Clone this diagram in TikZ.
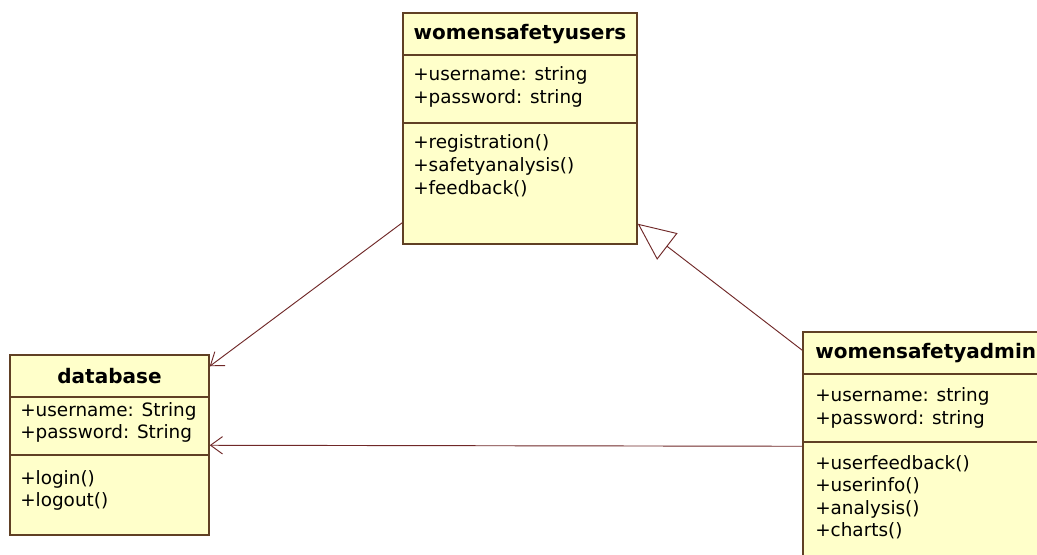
\documentclass[tikz,border=0pt]{standalone}
\usepackage{fontspec}
\setmainfont{DejaVu Sans}
\usetikzlibrary{arrows.meta,calc}

\definecolor{classfill}{RGB}{255,255,202}
\definecolor{classline}{RGB}{96,64,36}
\definecolor{linkline}{RGB}{112,40,40}

\begin{document}
\begin{tikzpicture}[x=0.75pt,y=-0.75pt]
\tikzstyle{classbox}=[draw=classline,fill=classfill,line width=1.1pt,inner sep=0pt]
\tikzstyle{sepline}=[draw=classline,line width=1.1pt]
\tikzstyle{member}=[anchor=base west,inner sep=0pt,font=\fontsize{13.8}{16}\selectfont]
\tikzstyle{title}=[inner sep=0pt,font=\bfseries\fontsize{15}{17}\selectfont]
\tikzstyle{assoc}=[draw=linkline,line width=0.7pt,-{Straight Barb[length=9pt,width=13pt]}]
\tikzstyle{inherit}=[draw=linkline,line width=0.7pt,-{Triangle[length=28pt,width=25pt,fill=white]}]
\fill[white] (0,0) rectangle (1037,555);
\clip (0,0) rectangle (1037,555);

\node[classbox,minimum width=175.5pt,minimum height=173.25pt] (users) at (520,128.5) {};
\draw[sepline] (users.west |- 0,55) -- (users.east |- 0,55);
\draw[sepline] (users.west |- 0,123) -- (users.east |- 0,123);
\node[title] (users-t) at (520,34) {womensafetyusers};
\node[member] (users-a1) at (413,81) {+username: string};
\node[member] (users-a2) at (413,104) {+password: string};
\foreach \m [count=\i] in {+registration(),+safetyanalysis(),+feedback()}
  \node[member] (users-o\i) at (413,149+23*\i-23) {\m};

\node[classbox,minimum width=149.25pt,minimum height=135pt] (db) at (109.5,445) {};
\draw[sepline] (db.west |- 0,397) -- (db.east |- 0,397);
\draw[sepline] (db.west |- 0,455) -- (db.east |- 0,455);
\node[title] (db-t) at (109.5,376) {database};
\node[member] (db-a1) at (20,416) {+username: String};
\node[member] (db-a2) at (20,438) {+password: String};
\node[member] (db-o1) at (20,484) {+login()};
\node[member] (db-o2) at (20,506) {+logout()};

\node[classbox,minimum width=192pt,minimum height=183pt] (admin) at (931,454) {};
\draw[sepline] (admin.west |- 0,374) -- (admin.east |- 0,374);
\draw[sepline] (admin.west |- 0,442) -- (admin.east |- 0,442);
\node[title,anchor=west] (admin-t) at (815,353) {womensafetyadmin};
\node[member] (admin-a1) at (815,401) {+username: string};
\node[member] (admin-a2) at (815,424) {+password: string};
\foreach \m [count=\i] in {+userfeedback(),+userinfo(),+analysis(),+charts()}
  \node[member] (admin-o\i) at (815,469+22.5*\i-22.5) {\m};

\draw[assoc] ($(users.south west)+(0,-22)$) -- ($(db.north east)+(0,12)$);
\draw[assoc] ($(admin.north west)+(0,115)$) -- ($(db.north east)+(0,91)$);
\draw[inherit] ($(admin.north west)+(0,19)$) -- ($(users.south east)+(0,-21)$);
\end{tikzpicture}
\end{document}
